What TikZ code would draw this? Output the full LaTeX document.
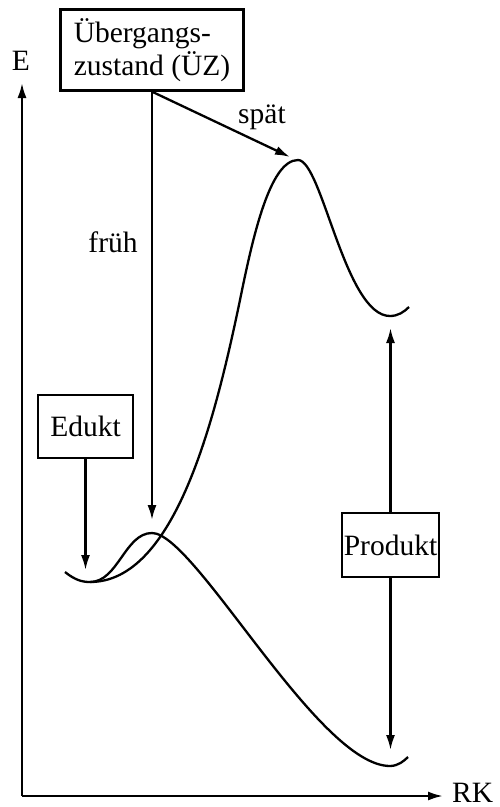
\documentclass[tikz,border=0pt]{standalone}
\usepackage{fontspec}
\setmainfont{Liberation Serif}
\usetikzlibrary{arrows.meta}
\begin{document}
\begin{tikzpicture}[x=1pt,y=-1pt,
  lw/.style={line width=2.3pt},
  arr/.style={lw,-{Latex[length=15pt,width=9pt]}},
  boxed/.style={draw,lw,inner sep=0pt,font=\fontsize{29.5}{33}\selectfont},
  lbl/.style={font=\fontsize{29.5}{33}\selectfont,inner sep=0pt}]
\useasboundingbox (0,0) rectangle (499,807);
% axes
\coordinate (O) at (22,796);
\coordinate (Ytop) at (22,83);
\coordinate (Xend) at (443,796);
\draw[arr] (O) -- (Ytop);
\draw[arr] (O) -- (Xend);
\node[lbl,anchor=base] (E) at (21,70) {E};
\node[lbl,anchor=base west] (RK) at (452,802) {RK};
% boxes
\node[boxed,minimum width=183pt,minimum height=81pt,align=left] (uz) at (152,50) {Übergangs-\\zustand (ÜZ)};
\node[boxed,minimum width=95pt,minimum height=63pt] (edukt) at (85.5,426.5) {Edukt};
\node[boxed,minimum width=97pt,minimum height=64pt] (prod) at (390.5,545) {Produkt};
% curves
\draw[lw] (65,572) .. controls (75,580) and (82,582) .. (90,582)
  .. controls (118,582) and (125,533) .. (152,533)
  .. controls (195,533) and (318,766) .. (390,766)
  .. controls (398,766) and (404,761) .. (408,757);
\draw[lw] (90,582) .. controls (175,582) and (215,420) .. (240,300)
  .. controls (253,236) and (270,160) .. (298,160)
  .. controls (322,160) and (345,316) .. (390,316)
  .. controls (398,316) and (404,312) .. (409,307);
% arrows
\coordinate (fruehEnd) at (152,520);
\coordinate (spaetEnd) at (290,157);
\coordinate (eduktEnd) at (85.5,570);
\coordinate (prodUp) at (390.5,328);
\coordinate (prodDown) at (390.5,750);
\draw[arr] (uz.south) -- (fruehEnd);
\draw[arr] (uz.south) -- (spaetEnd);
\draw[arr] (edukt.south) -- (eduktEnd);
\draw[arr] (prod.north) -- (prodUp);
\draw[arr] (prod.south) -- (prodDown);
\node[lbl] (frueh) at (113,242) {früh};
\node[lbl] (spaet) at (262,117) {spät};
\end{tikzpicture}
\end{document}
